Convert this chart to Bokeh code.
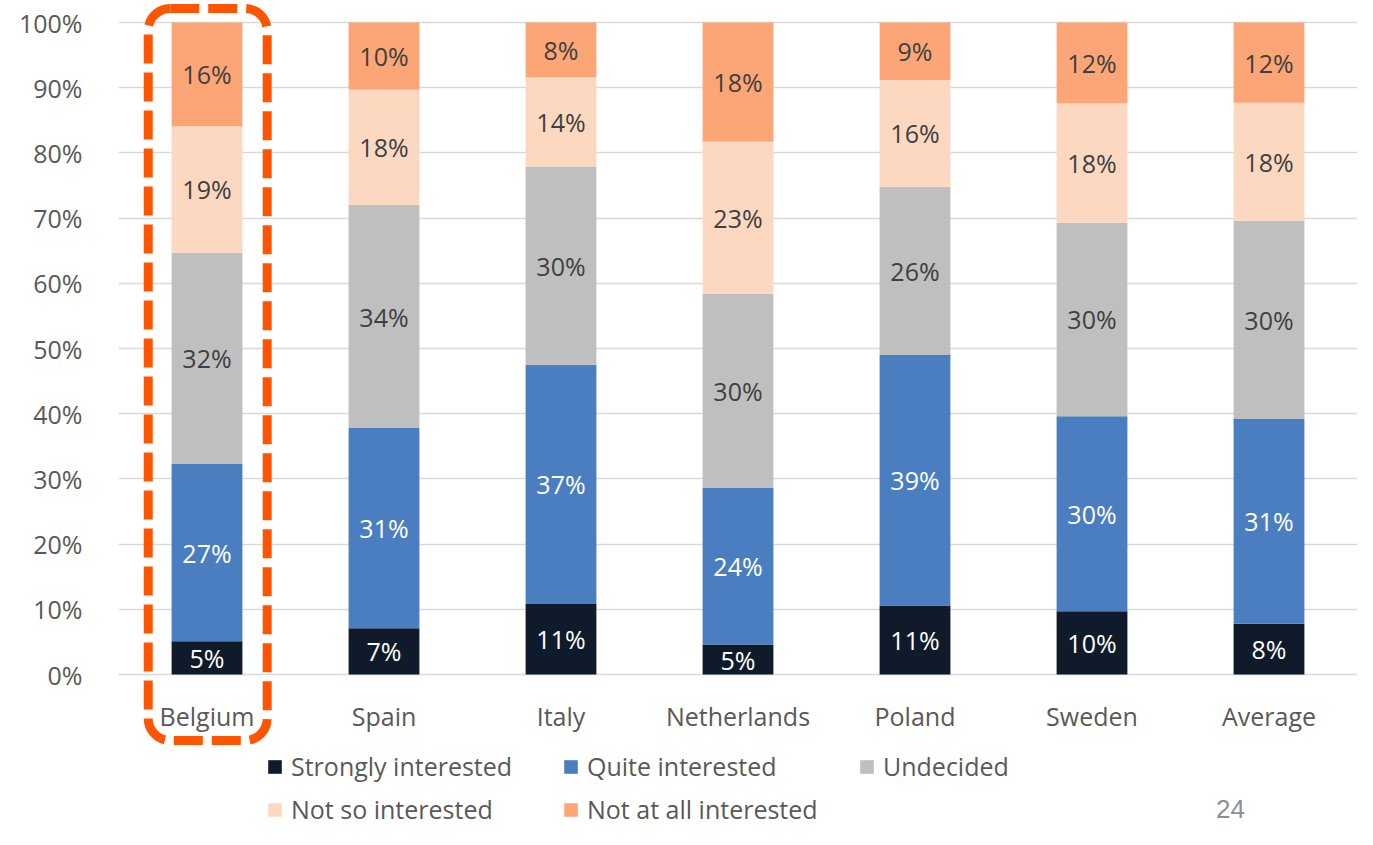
from bokeh.plotting import figure
from bokeh.models import (ColumnDataSource, Legend, LegendItem, NumeralTickFormatter,
                          Range1d, FactorRange, BoxAnnotation, Label, FixedTicker)
from bokeh.embed import file_html
from bokeh.resources import INLINE
from bokeh.core.properties import value

countries = ["Belgium", "Spain", "Italy", "Netherlands", "Poland", "Sweden", "Average"]
series_names = ["Strongly interested", "Quite interested", "Undecided",
                "Not so interested", "Not at all interested"]
strongly = [5.1, 7.1, 10.8, 4.6, 10.6, 9.7, 7.8]
quite = [27.2, 30.7, 36.7, 24.0, 38.4, 29.9, 31.4]
undecided = [32.4, 34.2, 30.4, 29.8, 25.8, 29.7, 30.4]
not_so = [19.4, 17.7, 13.7, 23.3, 16.4, 18.3, 18.1]
not_at_all = [15.9, 10.3, 8.4, 18.3, 8.8, 12.4, 12.3]

strongly_lbl = ["5%", "7%", "11%", "5%", "11%", "10%", "8%"]
quite_lbl = ["27%", "31%", "37%", "24%", "39%", "30%", "31%"]
undecided_lbl = ["32%", "34%", "30%", "30%", "26%", "30%", "30%"]
not_so_lbl = ["19%", "18%", "14%", "23%", "16%", "18%", "18%"]
not_at_all_lbl = ["16%", "10%", "8%", "18%", "9%", "12%", "12%"]

colors = ["#0F1B2A", "#4A7EC0", "#BFBFBF", "#FDD8C1", "#FCA677"]
label_colors = ["#FFFFFF", "#FFFFFF", "#404040", "#404040", "#404040"]
highlight = "Belgium"
page_number = "24"

FONT = "Open Sans"
TXT = "#595959"

# ---- layout (pixels on the canvas) ----
W, H = 1357, 829
FRAME_LEFT = 118
Y100_PX = 22      # pixel row of 100 %
Y0_PX = 674       # pixel row of 0 %
CAT_PX = 715      # centre of category labels
px_per_unit = Y0_PX - Y100_PX
y_top = 1 + Y100_PX / px_per_unit
y_bot = -(H - Y0_PX) / px_per_unit
def py(px):
    return (Y0_PX - px) / px_per_unit

series = [strongly, quite, undecided, not_so, not_at_all]
labels = [strongly_lbl, quite_lbl, undecided_lbl, not_so_lbl, not_at_all_lbl]
keys = ["s0", "s1", "s2", "s3", "s4"]

data = {"country": countries}
for k, s in zip(keys, series):
    data[k] = [v / 100.0 for v in s]
src = ColumnDataSource(data)

p = figure(x_range=FactorRange(*countries), y_range=Range1d(y_bot, y_top),
           width=W, height=H, output_backend="svg", toolbar_location=None,
           min_border_left=FRAME_LEFT, min_border_right=0, min_border_top=0,
           min_border_bottom=0)
p.outline_line_color = None
p.background_fill_color = "white"
p.border_fill_color = "white"

rs = p.vbar_stack(keys, x="country", width=0.4, color=colors, line_color=None, source=src)

# segment labels
lx, ly, lt, lc = [], [], [], []
for j, c in enumerate(countries):
    base = 0.0
    for i in range(len(series)):
        v = series[i][j] / 100.0
        lx.append(c)
        ly.append(base + v / 2)
        lt.append(labels[i][j])
        lc.append(label_colors[i])
        base += v
lsrc = ColumnDataSource(dict(x=lx, y=ly, t=lt, c=lc))
p.text(x="x", y="y", text="t", text_color="c", source=lsrc,
       text_font=value(FONT), text_font_size="25px",
       text_align="center", text_baseline="middle")

# category labels (drawn through the categorical scale)
p.text(x=countries, y=[py(CAT_PX)] * len(countries), text=countries,
       text_color=TXT, text_font=value(FONT), text_font_size="25px",
       text_align="center", text_baseline="middle")

# axes
p.xaxis.visible = False
p.xgrid.grid_line_color = None
p.ygrid.grid_line_color = "#D9D9D9"
p.ygrid.grid_line_width = 1.5
p.yaxis.ticker = FixedTicker(ticks=[i / 10 for i in range(11)])
p.yaxis.formatter = NumeralTickFormatter(format="0%")
ax = p.yaxis[0]
ax.axis_line_color = None
ax.major_tick_line_color = None
ax.minor_tick_line_color = None
ax.major_label_text_font = FONT
ax.major_label_text_font_size = "25px"
ax.major_label_text_color = TXT
ax.major_label_standoff = 30

# legend (location = bottom-left corner, measured from the frame's bottom-left)
LEG_X = 266
LEG_BOTTOM = 827
items = [LegendItem(label=n, renderers=[r]) for n, r in zip(series_names, rs)]
legend = Legend(items=items, orientation="horizontal", ncols=3,
                label_text_font=FONT, label_text_font_size="25px",
                label_text_color=TXT, glyph_width=17, glyph_height=17,
                label_standoff=8, label_width=264, label_height=36,
                spacing=7, padding=0, margin=0,
                border_line_alpha=0, background_fill_alpha=0,
                location=(LEG_X - FRAME_LEFT, H - LEG_BOTTOM))
p.add_layout(legend)

# highlight box around the emphasised category
hi = countries.index(highlight)
box = BoxAnnotation(left=hi + 0.168, right=hi + 0.84, top=py(8), bottom=py(740),
                    fill_alpha=0, line_color="#FF5500", line_alpha=1, line_width=9,
                    line_dash="29 9", border_radius=22)
p.add_layout(box)

# page number
p.add_layout(Label(x=1230 - FRAME_LEFT, y=H - 808, x_units="screen", y_units="screen",
                   text=page_number, text_font="Liberation Sans",
                   text_font_size="26px", text_color="#8C9199",
                   text_align="center", text_baseline="middle"))

open("out.html", "w").write(file_html(p, INLINE))
